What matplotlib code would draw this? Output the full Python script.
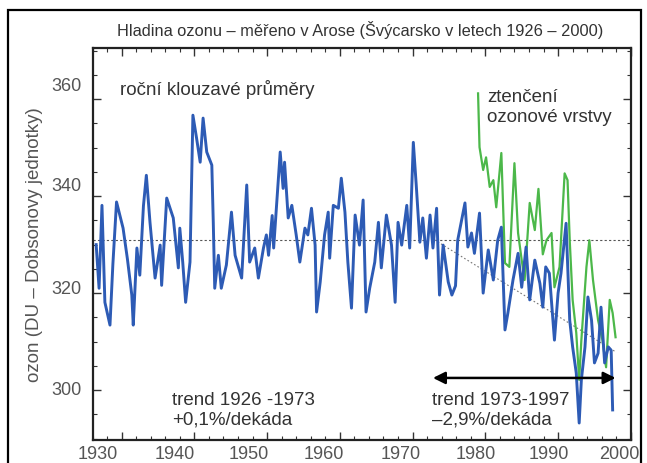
import matplotlib
matplotlib.use("Agg")
import matplotlib.pyplot as plt
from matplotlib.patches import Rectangle
from matplotlib.ticker import MultipleLocator
from matplotlib.transforms import ScaledTranslation

plt.rcParams['font.family'] = ['Liberation Sans', 'DejaVu Sans']

# rocni klouzave prumery (blue)
blue_years = [1926.5, 1926.9, 1927.3, 1927.7, 1928.4, 1928.8, 1929.3, 1930.2, 1930.8, 1931.4,
              1931.6, 1932.1, 1932.5, 1933.0, 1933.4, 1933.9, 1934.6, 1935.3, 1935.5, 1936.2,
              1937.1, 1937.8, 1938.0, 1938.4, 1938.8, 1939.4, 1939.8, 1940.3, 1940.8, 1941.2,
              1941.7, 1942.4, 1942.6, 1942.8, 1943.3, 1943.7, 1944.4, 1945.1, 1945.6, 1946.5,
              1947.2, 1947.6, 1948.3, 1948.8, 1949.5, 1949.9, 1950.2, 1950.7, 1950.9, 1951.3,
              1951.8, 1952.2, 1952.4, 1952.9, 1953.4, 1954.0, 1954.5, 1955.2, 1955.6, 1956.1,
              1956.6, 1956.8, 1957.3, 1957.9, 1958.4, 1958.6, 1959.1, 1959.8, 1960.2, 1960.7,
              1961.1, 1961.6, 1962.1, 1962.7, 1963.2, 1963.6, 1964.1, 1964.8, 1965.3, 1965.7,
              1966.4, 1967.1, 1967.6, 1968.0, 1968.5, 1969.2, 1969.6, 1970.1, 1970.5, 1971.0,
              1971.4, 1971.9, 1972.4, 1972.8, 1973.3, 1973.7, 1974.2, 1974.9, 1975.4, 1975.9,
              1976.2, 1977.2, 1977.6, 1978.1, 1978.5, 1979.2, 1979.7, 1980.4, 1981.1, 1981.7,
              1982.2, 1982.7, 1983.1, 1983.8, 1984.5, 1985.0, 1985.6, 1986.1, 1986.8, 1987.5,
              1987.9, 1988.3, 1988.8, 1989.5, 1990.0, 1990.4, 1990.9, 1991.1, 1991.6, 1992.0,
              1992.5, 1992.9, 1993.2, 1993.7, 1994.1, 1994.6, 1995.0, 1995.5, 1995.9, 1996.4,
              1996.9, 1997.3, 1997.5]
blue_ozone = [330.0, 321.0, 338.1, 318.1, 313.4, 326.0, 338.8, 333.4, 327.0, 319.6,
              313.4, 329.3, 323.7, 338.0, 344.3, 334.6, 323.1, 329.9, 321.6, 339.6,
              335.5, 325.2, 333.4, 326.4, 318.1, 326.4, 356.7, 352.0, 347.0, 356.1,
              349.1, 346.4, 334.6, 321.0, 327.8, 321.0, 325.8, 336.7, 327.8, 323.1,
              342.3, 326.4, 329.3, 323.1, 329.3, 332.0, 327.8, 336.0, 329.3, 338.1,
              349.1, 341.6, 347.0, 335.5, 338.1, 332.0, 326.4, 333.4, 332.0, 337.5,
              329.9, 316.1, 322.3, 332.0, 336.7, 327.2, 338.1, 337.5, 343.7, 336.7,
              326.4, 316.9, 336.1, 329.9, 339.2, 316.1, 321.0, 326.4, 334.6, 325.2,
              336.1, 329.9, 318.1, 334.6, 329.9, 338.1, 329.3, 351.1, 342.3, 330.5,
              335.5, 327.2, 336.1, 329.3, 337.5, 319.6, 329.9, 322.3, 319.6, 321.5,
              330.9, 338.6, 329.5, 332.4, 328.2, 336.5, 320.0, 328.9, 322.7, 330.9,
              333.6, 312.4, 315.9, 322.7, 328.2, 321.2, 329.5, 318.6, 326.8, 322.0,
              317.1, 325.4, 324.1, 310.3, 320.0, 324.1, 331.5, 334.4, 314.4, 308.9,
              303.5, 293.2, 302.1, 308.9, 319.2, 314.4, 305.6, 307.6, 317.1, 305.6,
              308.9, 308.2, 295.9]

# ztenceni ozonove vrstvy (green)
green_years = [1979.0, 1979.2, 1979.7, 1980.1, 1980.6, 1981.1, 1981.5, 1982.2, 1982.7, 1983.3,
               1984.0, 1984.5, 1985.0, 1985.4, 1986.1, 1986.8, 1987.3, 1987.9, 1988.4, 1989.1,
               1989.5, 1990.2, 1990.9, 1991.3, 1991.6, 1992.0, 1992.5, 1992.9, 1993.2, 1993.9,
               1994.3, 1994.8, 1995.5, 1996.1, 1996.6, 1997.1, 1997.5, 1997.9]
green_ozone = [361.2, 350.1, 345.4, 348.0, 341.9, 343.3, 337.7, 348.9, 326.2, 325.4,
               346.8, 332.4, 326.8, 322.7, 338.6, 333.0, 341.5, 328.0, 330.9, 332.4,
               321.2, 325.4, 344.7, 343.3, 330.9, 318.6, 311.8, 302.1, 310.3, 325.4,
               330.9, 322.7, 314.4, 310.3, 304.7, 318.6, 315.9, 310.9]

mean_ozone = 331.0
trend_years = [1973, 1998]
trend_ozone = [331.0, 307.8]
arrow_years = [1972.8, 1997.9]
arrow_ozone = 302.5

fig = plt.figure(figsize=(6.47, 4.63), dpi=100)
ax = fig.add_axes([0.143, 0.0497, 0.832, 0.846])

ax.axhline(mean_ozone, color='#555555', lw=0.8, ls=(0, (2, 2)), zorder=1)
ax.plot(trend_years, trend_ozone, color='#777777', lw=0.8, ls=(0, (1.5, 2)), zorder=1)
ax.plot(blue_years, blue_ozone, color='#2d5bb5', lw=2.1, zorder=3)
ax.plot(green_years, green_ozone, color='#4cb84a', lw=1.6, zorder=2)

ax.annotate('', xy=(arrow_years[1], arrow_ozone), xytext=(arrow_years[0], arrow_ozone),
            arrowprops=dict(arrowstyle='<|-|>', color='black', lw=1.8,
                            mutation_scale=18, shrinkA=0, shrinkB=0), zorder=4)

ax.set_xlim(1926, 2000)
ax.set_ylim(289.7, 370.5)
ax.xaxis.set_major_locator(MultipleLocator(10))
ax.xaxis.set_minor_locator(MultipleLocator(2))
ax.yaxis.set_major_locator(MultipleLocator(20))
ax.yaxis.set_minor_locator(MultipleLocator(5))
ax.tick_params(which='both', direction='in', top=True, right=True, colors='#333333',
               labelcolor='#555555', labelsize=13)
ax.tick_params(which='major', length=6, width=1)
ax.tick_params(which='minor', length=3, width=0.8)
ax.tick_params(axis='x', pad=4)
ax.tick_params(axis='y', pad=8)
for s in ax.spines.values():
    s.set_linewidth(1.6)
    s.set_color('#222222')

# the printed labels sit a little off their ticks in the original (pixels)
fig.canvas.draw()
x_shift = {'1930': -24, '1940': -20, '1950': -18, '1960': -16, '1970': -12,
           '1980': -10, '1990': -9, '2000': -12}
for lab in ax.get_xticklabels():
    dx = x_shift.get(lab.get_text(), 0)
    lab.set_transform(lab.get_transform() + ScaledTranslation(dx / 100, 0, fig.dpi_scale_trans))
y_shift = {'300': 2, '320': 6, '340': 12, '360': 15}
for lab in ax.get_yticklabels():
    dy = y_shift.get(lab.get_text(), 0)
    lab.set_transform(lab.get_transform() + ScaledTranslation(0, dy / 100, fig.dpi_scale_trans))

ax.set_ylabel('ozon (DU – Dobsonovy jednotky)', fontsize=13.5, color='#555555', labelpad=6)

tc = '#333333'
ax.text(1929.8, 361.9, 'roční klouzavé průměry', fontsize=13.5, color=tc, va='center')
ax.text(1980.2, 358.3, 'ztenčení\nozonové vrstvy', fontsize=13.5, color=tc, va='center',
        linespacing=1.2)
ax.text(1936.9, 295.9, 'trend 1926 -1973\n+0,1%/dekáda', fontsize=13.5, color=tc,
        va='center', linespacing=1.2)
ax.text(1972.6, 295.9, 'trend 1973-1997\n–2,9%/dekáda', fontsize=13.5, color=tc,
        va='center', linespacing=1.2)

fig.text(0.556, 0.935, 'Hladina ozonu – měřeno v Arose (Švýcarsko v letech 1926 – 2000)',
         ha='center', va='center', fontsize=11.8, color='#333333')

fig.patches.append(Rectangle((8 / 647, -0.05), 633 / 647, (453 / 463) + 0.05,
                             transform=fig.transFigure, fill=False, lw=1.6,
                             edgecolor='black', zorder=10))

fig.savefig('out.png', dpi=100)
